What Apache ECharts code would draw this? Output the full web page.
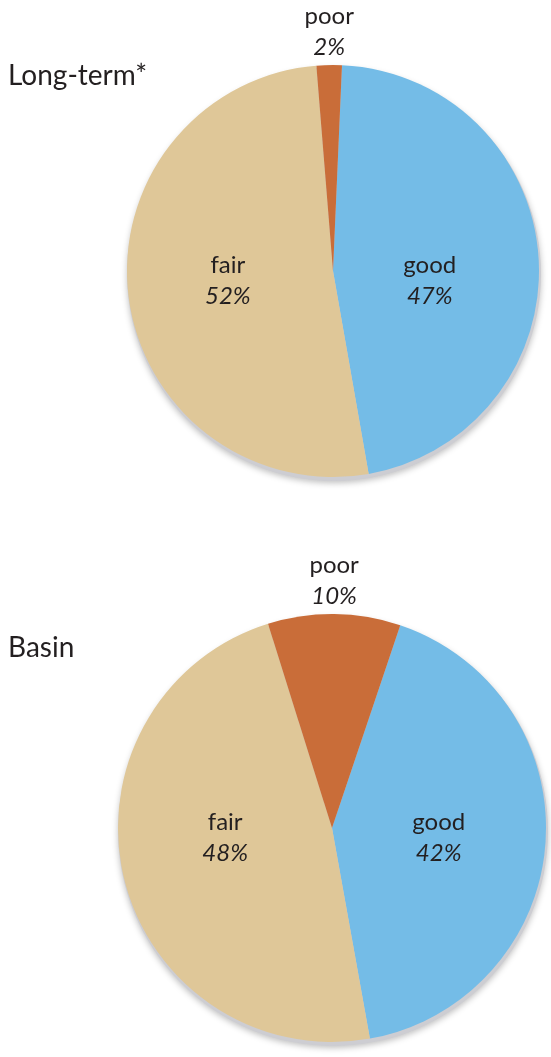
<!DOCTYPE html>
<html>
<head>
<meta charset="utf-8">
<script src="https://cdn.jsdelivr.net/npm/echarts@6/dist/echarts.min.js"></script>
<style>
  html, body { margin: 0; padding: 0; background: #ffffff; }
  #chart { width: 551px; height: 1057px; }
</style>
</head>
<body>
<div id="chart"></div>
<script>
// Condition shares for the two periods
const categories = ['good', 'fair', 'poor'];
const longTermValues = [47, 52, 2];
const basinValues = [42, 48, 10];
const panelTitles = ['Long-term*', 'Basin'];

const colors = { good: '#74bce7', fair: '#dfc798', poor: '#c96d39' };
const FONT = 'Lato, "Open Sans", sans-serif';
const TEXT = '#231f20';

// Pie geometry (pixels)
const pies = [
  { center: [333, 271], radius: 206, startAngle: 87.5, values: longTermValues, title: panelTitles[0], titleTop: 57, goodShift: -9 },
  { center: [332, 828], radius: 214, startAngle: 71.4, values: basinValues, title: panelTitles[1], titleTop: 629, goodShift: -3 }
];

const chart = echarts.init(document.getElementById('chart'), null, { renderer: 'canvas' });

const series = [];
pies.forEach(function (p) {
  // grey rim and soft shadow under each pie
  series.push({
    type: 'pie',
    silent: true,
    z: 1,
    center: [p.center[0] + 1, p.center[1] + 3],
    radius: [0, p.radius + 1],
    label: { show: false },
    labelLine: { show: false },
    itemStyle: {
      color: '#cdcdd2',
      shadowBlur: 6,
      shadowColor: 'rgba(0,0,0,0.25)',
      shadowOffsetX: 0,
      shadowOffsetY: 2
    },
    data: [{ value: 1 }]
  });
  const cy = p.center[1];
  series.push({
    type: 'pie',
    z: 2,
    center: p.center,
    radius: [0, p.radius],
    startAngle: p.startAngle,
    clockwise: true,
    avoidLabelOverlap: false,
    emphasis: { disabled: true },
    itemStyle: { borderWidth: 0 },
    label: {
      show: true,
      position: 'inside',
      formatter: function (d) { return '{n|' + d.name + '}\n{v|' + d.value + '%}'; },
      rich: {
        n: { fontFamily: FONT, fontSize: 24, color: TEXT, lineHeight: 31, align: 'center' },
        v: { fontFamily: FONT, fontSize: 24, fontStyle: 'italic', color: TEXT, lineHeight: 31, align: 'center' }
      }
    },
    labelLine: { show: false },
    labelLayout: function (params) {
      const lr = params.labelRect;
      const r = params.rect;
      if (params.dataIndex === 2) {
        // small slice: label sits just above the pie
        return {
          dx: (r.x + r.width / 2) - (lr.x + lr.width / 2),
          dy: (r.y - 6) - (lr.y + lr.height)
        };
      }
      return {
        dx: params.dataIndex === 0 ? p.goodShift : 0,
        dy: (cy + 10) - (lr.y + lr.height / 2)
      };
    },
    data: categories.map(function (c, i) {
      return { name: c, value: p.values[i], itemStyle: { color: colors[c] } };
    })
  });
});

chart.setOption({
  animation: false,
  title: pies.map(function (p) {
    return {
      text: p.title,
      left: 3,
      top: p.titleTop,
      textStyle: { fontFamily: FONT, fontSize: 28, fontWeight: 'normal', color: TEXT }
    };
  }),
  series: series
});
</script>
</body>
</html>
